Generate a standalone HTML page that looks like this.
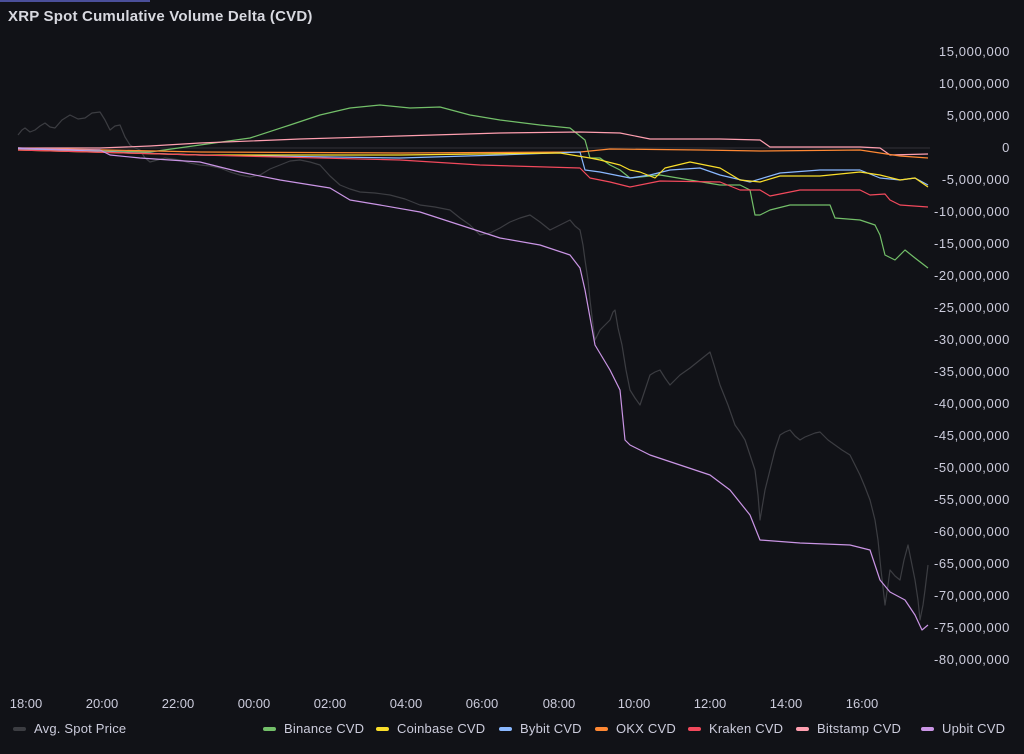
<!DOCTYPE html>
<html><head><style>
body{margin:0;background:#111217;width:1024px;height:754px;overflow:hidden;font-family:"Liberation Sans",sans-serif;color:#ccccdc}
.t{position:absolute;left:8px;top:8px;font-size:15px;font-weight:bold;color:#d8d9e0;letter-spacing:0.2px}
.y{position:absolute;right:14px;font-size:13px;letter-spacing:0.6px;color:#ccccdc;text-align:right}
.x{position:absolute;top:696px;font-size:13px;width:50px;margin-left:-25px;text-align:center}
.lg{position:absolute;top:721px;font-size:13px;letter-spacing:0.2px;display:flex;align-items:center}
.lg i{display:inline-block;width:13px;height:4px;border-radius:2px;margin-right:8px}
</style></head><body>
<div style="position:absolute;left:0;top:0;width:150px;height:2px;background:#4a4f9a"></div>
<div class="t">XRP Spot Cumulative Volume Delta (CVD)</div>
<svg width="1024" height="754" style="position:absolute;left:0;top:0" fill="none" stroke-width="1.2" stroke-linejoin="round">
<line x1="18" y1="148" x2="930" y2="148" stroke="#2c2d33"/>
<polyline stroke="#3c3d42" points="18,135 22,130 25,128 30,132 35,130 40,126 45,123 50,127 55,128 62,120 70,115 78,119 85,118 92,113 100,112 105,120 110,130 115,126 120,125 125,137 130,145 135,148 140,150 145,158 150,162 165,158 180,160 190,163 200,165 210,166 220,168 230,172 240,175 250,177 260,175 270,169 280,165 290,161 300,160 310,162 320,165 330,176 340,185 350,189 360,192 375,193 390,195 405,199 420,205 435,207 450,210 460,218 470,225 475,230 480,235 490,233 500,228 510,222 520,218 530,215 540,222 550,230 560,225 570,220 575,226 580,230 583,245 585,260 588,280 590,300 593,325 595,340 598,334 600,330 605,325 610,320 613,312 615,310 618,328 622,345 626,370 630,390 635,398 640,405 645,390 650,375 655,372 660,370 665,378 670,385 675,380 680,375 690,368 700,360 705,356 710,352 715,368 720,385 728,405 735,425 740,432 745,440 750,455 755,470 758,495 760,520 765,490 770,470 775,450 780,435 785,432 790,430 795,436 800,440 805,437 810,435 815,433 820,432 828,440 835,445 842,450 850,455 855,465 860,475 865,487 870,500 875,520 878,540 881,570 885,605 888,585 890,570 895,576 900,580 904,560 908,545 912,565 915,580 918,600 920,620 923,605 925,590 928,565"/>
<polyline stroke="#73bf69" points="18,148 80,150 150,152 200,145 250,138 290,125 320,115 350,108 380,105 410,108 440,107 470,115 500,120 540,125 570,128 585,140 590,158 600,158 610,165 620,170 630,178 660,175 690,180 720,185 740,185 750,190 755,215 760,215 770,210 790,205 810,205 830,205 835,218 860,220 875,225 880,235 885,255 895,260 905,250 915,258 928,268"/>
<polyline stroke="#ff9fb0" points="18,148 100,148 150,146 200,143 300,139 400,136 500,133 580,132 620,133 650,139 720,139 760,140 770,147 800,147 860,147 880,148 890,155 928,154"/>
<polyline stroke="#ff8833" points="18,148 200,152 400,153 580,152 610,149 700,150 760,151 860,150 880,153 900,156 928,158"/>
<polyline stroke="#8ab8ff" points="18,149 200,155 400,158 500,155 580,152 585,170 600,172 630,178 650,175 670,170 700,168 720,175 750,182 780,173 820,170 860,170 880,178 900,180 915,178 928,185"/>
<polyline stroke="#fade2a" points="18,150 200,155 400,155 560,153 590,158 600,160 620,165 630,170 640,172 655,178 665,168 690,162 720,168 740,180 760,182 780,176 820,176 860,172 880,175 900,180 915,178 928,187"/>
<polyline stroke="#f2495c" points="18,150 200,155 400,160 480,165 580,168 590,178 610,182 630,187 660,181 720,182 740,190 760,190 770,196 800,190 860,190 870,195 885,194 890,200 900,205 928,207"/>
<polyline stroke="#ca95e5" points="18,148 80,150 100,150 110,155 140,158 200,162 240,172 280,180 330,188 350,200 380,205 420,212 460,225 500,238 540,245 570,255 580,268 585,290 595,345 610,370 620,390 625,440 630,445 650,455 680,465 710,475 730,490 750,515 760,540 800,543 850,545 870,550 880,580 890,592 905,600 915,615 922,630 928,625"/>
</svg>
<div class="y" style="top:44px">15,000,000</div>
<div class="y" style="top:76px">10,000,000</div>
<div class="y" style="top:108px">5,000,000</div>
<div class="y" style="top:140px">0</div>
<div class="y" style="top:172px">-5,000,000</div>
<div class="y" style="top:204px">-10,000,000</div>
<div class="y" style="top:236px">-15,000,000</div>
<div class="y" style="top:268px">-20,000,000</div>
<div class="y" style="top:300px">-25,000,000</div>
<div class="y" style="top:332px">-30,000,000</div>
<div class="y" style="top:364px">-35,000,000</div>
<div class="y" style="top:396px">-40,000,000</div>
<div class="y" style="top:428px">-45,000,000</div>
<div class="y" style="top:460px">-50,000,000</div>
<div class="y" style="top:492px">-55,000,000</div>
<div class="y" style="top:524px">-60,000,000</div>
<div class="y" style="top:556px">-65,000,000</div>
<div class="y" style="top:588px">-70,000,000</div>
<div class="y" style="top:620px">-75,000,000</div>
<div class="y" style="top:652px">-80,000,000</div>
<div class="x" style="left:26px">18:00</div><div class="x" style="left:102px">20:00</div><div class="x" style="left:178px">22:00</div><div class="x" style="left:254px">00:00</div><div class="x" style="left:330px">02:00</div><div class="x" style="left:406px">04:00</div><div class="x" style="left:482px">06:00</div><div class="x" style="left:559px">08:00</div><div class="x" style="left:634px">10:00</div><div class="x" style="left:710px">12:00</div><div class="x" style="left:786px">14:00</div><div class="x" style="left:862px">16:00</div>
<div class="lg" style="left:13px"><i style="background:#3c3d42"></i>Avg. Spot Price</div>
<div class="lg" style="left:263px"><i style="background:#73bf69"></i>Binance CVD</div>
<div class="lg" style="left:376px"><i style="background:#fade2a"></i>Coinbase CVD</div>
<div class="lg" style="left:499px"><i style="background:#8ab8ff"></i>Bybit CVD</div>
<div class="lg" style="left:595px"><i style="background:#ff8833"></i>OKX CVD</div>
<div class="lg" style="left:688px"><i style="background:#f2495c"></i>Kraken CVD</div>
<div class="lg" style="left:796px"><i style="background:#ff9fb0"></i>Bitstamp CVD</div>
<div class="lg" style="left:921px"><i style="background:#ca95e5"></i>Upbit CVD</div>
</body></html>
